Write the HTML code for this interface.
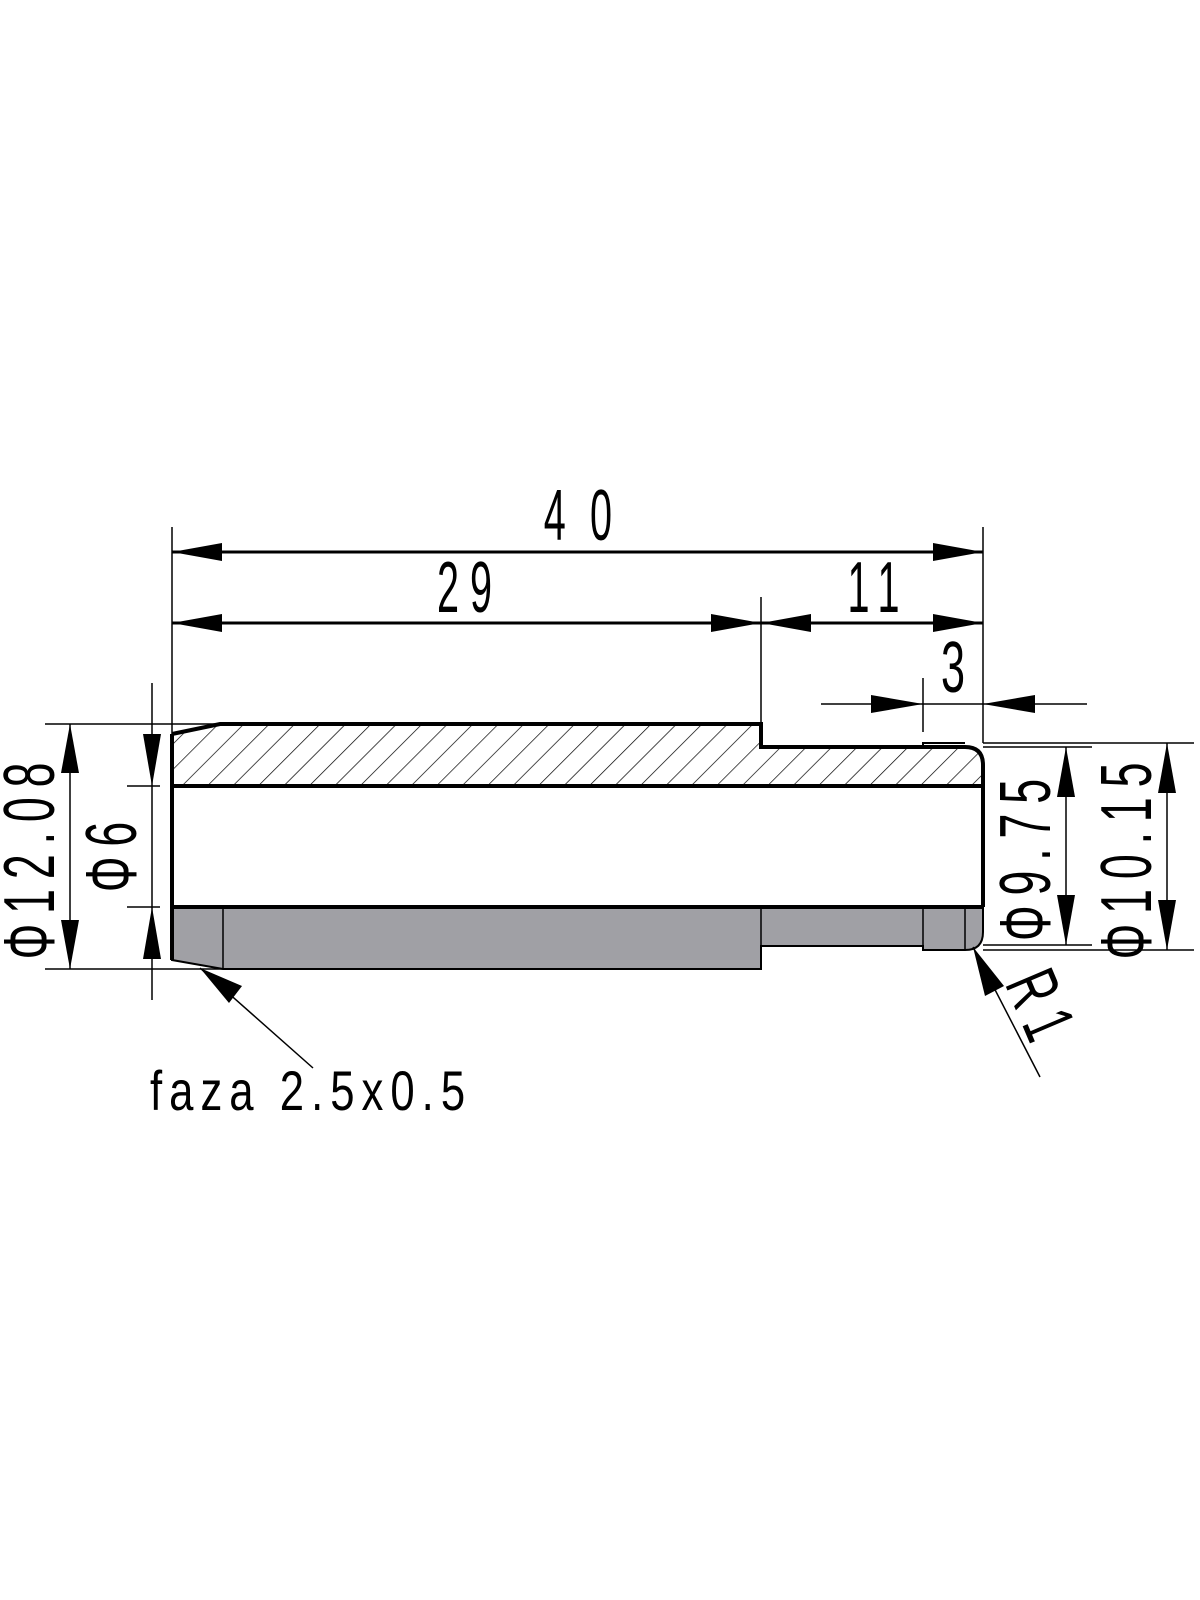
<!DOCTYPE html>
<html><head><meta charset="utf-8"><style>
html,body{margin:0;padding:0;background:#fff;}
svg{display:block;}
text{font-family:"Liberation Sans",sans-serif;fill:#000;}
</style></head><body>
<svg width="1200" height="1600" viewBox="0 0 1200 1600" xmlns="http://www.w3.org/2000/svg">
<defs>
<pattern id="h" patternUnits="userSpaceOnUse" width="18" height="18" patternTransform="rotate(45)">
<line x1="0" y1="0" x2="0" y2="18" stroke="#000" stroke-width="1.4"/>
</pattern>
</defs>
<path d="M172,734 L220,724 L761,724 L761,747 L965,747 Q983,747 983,765 L983,786 L172,786 Z" fill="url(#h)"/>
<path d="M172,907 L983,907 L983,932 Q983,950 965,950 L923,950 L923,946 L761,946 L761,969 L223,969 L172,960 Z" fill="#a0a0a5" stroke="#000" stroke-width="2"/>
<g stroke="#000" stroke-width="1.5">
<line x1="223" y1="907" x2="223" y2="969"/>
<line x1="761" y1="907" x2="761" y2="946"/>
<line x1="923" y1="907" x2="923" y2="950"/>
<line x1="965" y1="907" x2="965" y2="950"/>
</g>
<g stroke="#000" stroke-width="4" fill="none">
<path d="M172,734 L220,724 L761,724 L761,747 L965,747 Q983,747 983,765 L983,907"/>
<line x1="172" y1="734" x2="172" y2="960"/>
<line x1="172" y1="786" x2="983" y2="786"/>
<line x1="172" y1="907" x2="983" y2="907"/>
</g>
<path d="M923,747 L923,743 L965,743" stroke="#000" stroke-width="2" fill="none"/>
<g stroke="#000" stroke-width="1.5" fill="none">
<line x1="172" y1="527" x2="172" y2="734"/>
<line x1="983" y1="527" x2="983" y2="743"/>
<line x1="761" y1="597" x2="761" y2="724"/>
<line x1="923" y1="678" x2="923" y2="732"/>
<line x1="821" y1="704" x2="1087" y2="704"/>
<line x1="45" y1="724" x2="220" y2="724"/>
<line x1="45" y1="969" x2="223" y2="969"/>
<line x1="70" y1="724" x2="70" y2="969"/>
<line x1="152" y1="683" x2="152" y2="1000"/>
<line x1="127" y1="786" x2="160" y2="786"/>
<line x1="127" y1="907" x2="160" y2="907"/>
<line x1="983" y1="747" x2="1092" y2="747"/>
<line x1="983" y1="945" x2="1092" y2="945"/>
<line x1="983" y1="743" x2="1194" y2="743"/>
<line x1="983" y1="950" x2="1194" y2="950"/>
<line x1="1066" y1="747" x2="1066" y2="945"/>
<line x1="1167" y1="743" x2="1167" y2="950"/>
<line x1="200" y1="968" x2="313" y2="1068"/>
<line x1="973" y1="947" x2="1040" y2="1077"/>
</g>
<g stroke="#000" stroke-width="3">
<line x1="172" y1="552" x2="983" y2="552"/>
<line x1="172" y1="623" x2="983" y2="623"/>
</g>
<g fill="#000">
<polygon points="172,552 222,543 222,561"/>
<polygon points="983,552 933,543 933,561"/>
<polygon points="172,623 222,614 222,632"/>
<polygon points="761,623 711,614 711,632"/>
<polygon points="761,623 811,614 811,632"/>
<polygon points="983,623 933,614 933,632"/>
<polygon points="923,704 871,695 871,713"/>
<polygon points="983,704 1035,695 1035,713"/>
<polygon points="70,724 61,773 79,773"/>
<polygon points="70,969 61,920 79,920"/>
<polygon points="152,786 143,734 161,734"/>
<polygon points="152,907 143,959 161,959"/>
<polygon points="1066,747 1057,797 1075,797"/>
<polygon points="1066,945 1057,895 1075,895"/>
<polygon points="1167,743 1158,793 1176,793"/>
<polygon points="1167,950 1158,900 1176,900"/>
<polygon points="200,968 242,986 229,1003"/>
<polygon points="973,947 985,996 1004,986"/>
</g>
<g font-size="72">
<text transform="translate(590,540) scale(0.55,1)" text-anchor="middle" letter-spacing="44">40</text>
<text transform="translate(470,612) scale(0.55,1)" text-anchor="middle" letter-spacing="20">29</text>
<text transform="translate(879,612) scale(0.55,1)" text-anchor="middle" letter-spacing="20">11</text>
<text transform="translate(953,692) scale(0.6,1)" text-anchor="middle">3</text>
<text transform="translate(54,856) rotate(-90) scale(0.62,1)" text-anchor="middle" letter-spacing="16">Φ12.08</text>
<text transform="translate(136,852) rotate(-90) scale(0.62,1)" text-anchor="middle" letter-spacing="16">Φ6</text>
<text transform="translate(1050,855) rotate(-90) scale(0.62,1)" text-anchor="middle" letter-spacing="16">Φ9.75</text>
<text transform="translate(1151,856) rotate(-90) scale(0.62,1)" text-anchor="middle" letter-spacing="16">Φ10.15</text>
<text transform="translate(1020,1020) rotate(67) scale(0.6,1)" text-anchor="middle" letter-spacing="20">R1</text>
</g>
<text transform="translate(150,1110) scale(0.78,1)" font-size="56" letter-spacing="9">faza 2.5x0.5</text>
</svg>
</body></html>
